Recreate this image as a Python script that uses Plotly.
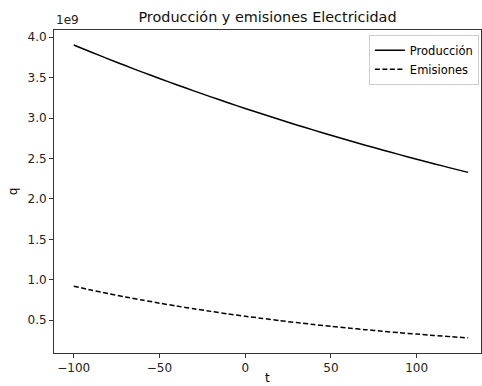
import plotly.graph_objects as go

t = [-100, -90, -80, -70, -60, -50, -40, -30, -20, -10, 0, 10, 20, 30, 40, 50, 60, 70, 80, 90, 100, 110, 120, 130]
produccion = [3.905, 3.818, 3.733, 3.650, 3.569, 3.490, 3.412, 3.337, 3.262, 3.190, 3.119, 3.050,
              2.982, 2.915, 2.851, 2.787, 2.725, 2.665, 2.605, 2.548, 2.491, 2.436, 2.381, 2.328]
emisiones = [0.920, 0.873, 0.829, 0.787, 0.748, 0.710, 0.674, 0.640, 0.608, 0.577, 0.548, 0.521,
             0.494, 0.469, 0.446, 0.423, 0.402, 0.382, 0.362, 0.344, 0.327, 0.310, 0.295, 0.280]
scale = 1e9
x_ticks = [-100, -50, 0, 50, 100]
x_ticklabels = ["\u2212100", "\u221250", "0", "50", "100"]
y_ticks = [0.5, 1.0, 1.5, 2.0, 2.5, 3.0, 3.5, 4.0]

font = "DejaVu Sans"
fig = go.Figure()
fig.add_trace(go.Scatter(x=t, y=[v * scale for v in produccion], mode="lines", name="Producción",
                         line=dict(color="black", width=1.5, shape="spline", smoothing=0.6)))
fig.add_trace(go.Scatter(x=t, y=[v * scale for v in emisiones], mode="lines", name="Emisiones",
                         line=dict(color="black", width=1.5, dash="5px,2.5px", shape="spline", smoothing=0.6)))

axis_common = dict(showgrid=False, zeroline=False, showline=True, linecolor="#333333", linewidth=1,
                   mirror=True, ticks="outside", ticklen=4, tickcolor="#333333",
                   tickfont=dict(family=font, size=12, color="#222222"))
fig.update_layout(
    width=482, height=386,
    margin=dict(l=54, r=1, t=30, b=33),
    plot_bgcolor="white", paper_bgcolor="white",
    title=dict(text="Producción y emisiones Electricidad", x=(54 + 481) / 2 / 482, xanchor="center",
               y=1 - 17 / 386, yanchor="middle", font=dict(family=font, size=14.4, color="#111111")),
    xaxis=dict(range=[-111.5, 137.5], tickvals=x_ticks, ticktext=x_ticklabels, **axis_common),
    yaxis=dict(range=[0.093e9, 4.09e9], tickvals=[v * scale for v in y_ticks],
               ticktext=[f"{v:.1f}" for v in y_ticks],
               title=dict(text="q", font=dict(family=font, size=12, color="black"), standoff=7),
               **axis_common),
    legend=dict(x=0.995, y=0.985, xanchor="right", yanchor="top", bgcolor="rgba(255,255,255,0.8)",
                bordercolor="#cccccc", borderwidth=1, font=dict(family=font, size=11.5, color="black"),
                tracegroupgap=0, itemwidth=30),
    showlegend=True,
)
fig.add_annotation(text="1e9", xref="paper", yref="paper", x=0, y=1, xanchor="left", yanchor="bottom",
                   showarrow=False, font=dict(family=font, size=12, color="#222222"), yshift=1)
fig.add_annotation(text="t", xref="paper", yref="paper", x=0.5, y=-(386 - 353) / 323,
                   xanchor="center", yanchor="bottom", showarrow=False, borderpad=0,
                   font=dict(family=font, size=12, color="black"))
fig.write_html("out.html")
